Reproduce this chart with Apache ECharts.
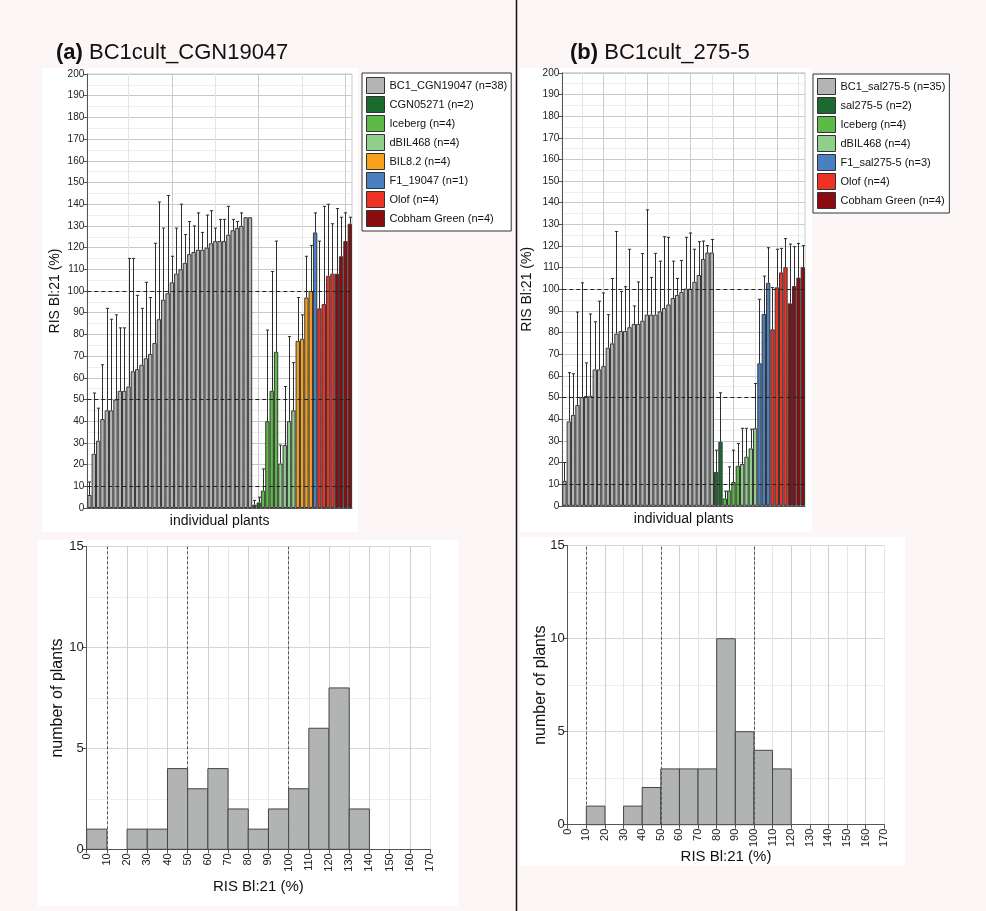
<!DOCTYPE html>
<html>
<head>
<meta charset="utf-8">
<script src="https://cdn.jsdelivr.net/npm/echarts@6/dist/echarts.min.js"></script>
<style>
  html, body { margin: 0; padding: 0; background: #fcf6f6; }
  #chart { width: 986px; height: 911px; }
</style>
</head>
<body>
<div id="chart"></div>
<script>
// ---------- (a) BC1cult_CGN19047: RIS Bl:21 (%) per plant and upper error limit ----------
const aBC1   = [6, 25, 31, 41, 45, 45, 50, 54, 54, 56, 63, 64, 66, 69, 71, 76, 87, 96, 99, 104,
                108, 110, 113, 117, 118, 119, 119, 120, 122, 123, 123, 123, 126, 128, 129, 130, 134, 134];
const aBC1Up = [12, 53, 46, 66, 92, 87, 89, 83, 83, 115, 115, 98, 92, 104, 97, 122, 141, 129, 144, 116,
                129, 140, 126, 132, 130, 136, 127, 135, 137, 129, 133, 133, 139, 133, 132, 136, null, null];
const aCGN05271 = [1.5, 2.5];          const aCGN05271Up = [3.5, 5];
const aIceberg  = [8, 40, 54, 72];     const aIcebergUp  = [18, 82, 109, 123];
const aDBIL468  = [20.5, 29, 40, 45];  const aDBIL468Up  = [29, 56, 79, 67];
const aBIL82    = [77, 78, 97, 100];   const aBIL82Up    = [97, 89, 116, 121];
const aF1       = [127];               const aF1Up       = [136];
const aOlof     = [92, 94, 107, 108];  const aOlofUp     = [123, 139, 140, 131];
const aCobham   = [108, 116, 123, 131];const aCobhamUp   = [138, 134, 136, 134];
const aNames = ['BC1_CGN19047 (n=38)', 'CGN05271 (n=2)', 'Iceberg (n=4)', 'dBIL468 (n=4)',
                'BIL8.2 (n=4)', 'F1_19047 (n=1)', 'Olof (n=4)', 'Cobham Green (n=4)'];

// ---------- (b) BC1cult_275-5 ----------
const bBC1   = [11.5, 39, 42, 46.5, 50.2, 50.7, 50.8, 63, 63, 64.5, 73, 75, 79.5, 80.7, 80.7, 82.5, 84, 84,
                85.5, 88.3, 88.3, 88.3, 89.8, 91.4, 93, 96, 97.4, 98.8, 100.3, 100.3, 103.5, 106.6, 114, 117, 117];
const bBC1Up = [20, 61.5, 61, 89.5, 103, 66, 88.6, 85, 94.5, 98.3, 88.3, 105, 126.7, 99, 101.2, 118.5, 92.3, 103.4,
                116.5, 136.7, 105.5, 116.6, 113, 124.3, 124, 113, 105, 113.3, 124, 126, 118.5, 122, 122.3, 120.2, 123];
const bSal2755  = [15.6, 29.6];              const bSal2755Up  = [25.7, 52.2];
const bIceberg  = [3.4, 7.1, 11, 18.5];      const bIcebergUp  = [6.8, 18, 25.7, 28.8];
const bDBIL468  = [19.3, 22.7, 26.5, 35.8];  const bDBIL468Up  = [35.8, 35.8, 35.4, 56.5];
const bF1       = [65.8, 88.6, 103];         const bF1Up       = [95.4, 106.1, 119.2];
const bOlof     = [81.5, 100.9, 107.8, 110.2]; const bOlofUp   = [100.8, 118.5, 118.9, 123.4];
const bCobham   = [93.5, 101.5, 105.4, 110.2]; const bCobhamUp = [120.9, 119.7, 121.2, 120.2];
const bNames = ['BC1_sal275-5 (n=35)', 'sal275-5 (n=2)', 'Iceberg (n=4)', 'dBIL468 (n=4)',
                'F1_sal275-5 (n=3)', 'Olof (n=4)', 'Cobham Green (n=4)'];

// ---------- histograms: number of BC1 plants per 10 % class ----------
const binStarts   = [0, 10, 20, 30, 40, 50, 60, 70, 80, 90, 100, 110, 120, 130, 140, 150, 160];
const aHistCounts = [1, 0, 1, 1, 4, 3, 4, 2, 1, 2, 3, 6, 8, 2, 0, 0, 0];
const bHistCounts = [0, 1, 0, 1, 2, 3, 3, 3, 10, 5, 4, 3, 0, 0, 0, 0, 0];
const refLines = [10, 50, 100];

// ---------- styling ----------
const FONT = 'Liberation Sans, Arial, sans-serif';
const aColors = ['#b3b5b5', '#1b6b2e', '#5cba47', '#8fcf8b', '#f6a21d', '#4a7fc1', '#ee3224', '#8a0b10'];
const bColors = ['#b3b5b5', '#1b6b2e', '#5cba47', '#8fcf8b', '#4a7fc1', '#ee3224', '#8a0b10'];

const panelA = {
  names: aNames, colors: aColors,
  values: [aBC1, aCGN05271, aIceberg, aDBIL468, aBIL82, aF1, aOlof, aCobham],
  uppers: [aBC1Up, aCGN05271Up, aIcebergUp, aDBIL468Up, aBIL82Up, aF1Up, aOlofUp, aCobhamUp],
  gridLines: [[9, '#e4e4e4'], [19, '#cbcbcb'], [29, '#e4e4e4'], [39, '#cbcbcb'], [49, '#e4e4e4'], [59, '#cbcbcb']]
};
const panelB = {
  names: bNames, colors: bColors,
  values: [bBC1, bSal2755, bIceberg, bDBIL468, bF1, bOlof, bCobham],
  uppers: [bBC1Up, bSal2755Up, bIcebergUp, bDBIL468Up, bF1Up, bOlofUp, bCobhamUp],
  gridLines: [[4, '#e4e4e4'], [9, '#cbcbcb'], [14, '#e4e4e4'], [19, '#cbcbcb'], [24, '#e4e4e4'], [29, '#cbcbcb'],
              [34, '#e4e4e4'], [39, '#cbcbcb'], [44, '#e4e4e4'], [49, '#cbcbcb'], [54, '#e4e4e4']]
};

function plantCount(p) { return p.values.reduce((s, v) => s + v.length, 0); }

// error whisker: vertical line from bar top to upper limit, with a small cap
function renderWhisker(params, api) {
  const up = api.value(2);
  if (up == null || isNaN(up)) return;
  const base = api.coord([api.value(0), api.value(1)]);
  const top = api.coord([api.value(0), up]);
  const x = Math.round(base[0]) + 0.5;
  const st = { stroke: '#2e2e2e', lineWidth: 1 };
  return {
    type: 'group',
    children: [
      { type: 'line', shape: { x1: x, y1: base[1], x2: x, y2: top[1] }, style: st },
      { type: 'line', shape: { x1: x - 1.6, y1: top[1], x2: x + 1.6, y2: top[1] }, style: st }
    ]
  };
}

function panelSeries(p, idx) {
  const total = plantCount(p);
  const out = [];
  const whiskers = [];
  let offset = 0;
  p.values.forEach((vals, g) => {
    const data = new Array(total).fill('-');
    vals.forEach((v, i) => {
      data[offset + i] = v;
      const up = p.uppers[g][i];
      if (up != null) whiskers.push([offset + i, v, up]);
    });
    offset += vals.length;
    const s = {
      type: 'bar', name: p.names[g], xAxisIndex: idx, yAxisIndex: idx, data,
      barGap: '-100%', barCategoryGap: '0%', z: 2, animation: false,
      itemStyle: { color: p.colors[g], borderColor: '#383838', borderWidth: 1 },
      emphasis: { disabled: true }
    };
    if (g === 0) {
      s.markLine = {
        silent: true, z: 1, animation: false, symbol: ['none', 'none'], label: { show: false },
        data: p.gridLines.map(([i, c]) => ({ xAxis: i, lineStyle: { color: c, width: 1, type: 'solid' } }))
      };
    }
    if (g === p.values.length - 1) {
      s.markLine = {
        silent: true, animation: false, symbol: ['none', 'none'], label: { show: false },
        lineStyle: { color: '#222', width: 1, type: [4, 3] },
        data: refLines.map(v => ({ yAxis: v }))
      };
    }
    out.push(s);
  });
  out.push({
    type: 'custom', xAxisIndex: idx, yAxisIndex: idx, z: 4, animation: false, silent: true,
    renderItem: renderWhisker, encode: { x: 0, y: [1, 2] }, data: whiskers
  });
  return out;
}

function renderHistBar(params, api) {
  const n = api.value(2);
  if (!n) return;
  const p0 = api.coord([api.value(0), n]);
  const p1 = api.coord([api.value(1), 0]);
  return {
    type: 'rect',
    shape: { x: p0[0], y: p0[1], width: p1[0] - p0[0], height: p1[1] - p0[1] },
    style: { fill: '#b2b4b4', stroke: '#454545', lineWidth: 1 }
  };
}

function histSeries(counts, idx) {
  return [{
    type: 'custom', xAxisIndex: idx, yAxisIndex: idx, animation: false, silent: true,
    renderItem: renderHistBar, encode: { x: [0, 1], y: 2 },
    data: binStarts.map((s, i) => [s, s + 10, counts[i]])
  }, {
    type: 'line', xAxisIndex: idx, yAxisIndex: idx, data: [], animation: false, silent: true,
    markLine: {
      silent: true, animation: false, symbol: ['none', 'none'], label: { show: false },
      lineStyle: { color: '#555', width: 1, type: [3, 2] },
      data: refLines.map(v => ({ xAxis: v }))
    }
  }];
}

function plantAxis(p, idx, gap) {
  return {
    type: 'category', gridIndex: idx,
    data: Array.from({ length: plantCount(p) }, (_, i) => String(i + 1)),
    axisLabel: { show: false }, axisTick: { show: false },
    axisLine: { show: true, lineStyle: { color: '#555', width: 1 } },
    splitLine: { show: false },
    name: 'individual plants', nameLocation: 'middle', nameGap: gap, nameMoveOverlap: false,
    nameTextStyle: { fontSize: 14, color: '#111', fontFamily: FONT }
  };
}

function risAxis(idx, gap) {
  return {
    type: 'value', gridIndex: idx, min: 0, max: 200, interval: 10,
    axisLine: { show: true, lineStyle: { color: '#555', width: 1 } },
    axisTick: { show: true, length: 4, lineStyle: { color: '#555' } },
    axisLabel: { fontSize: 10, color: '#222', margin: 3, fontFamily: FONT },
    splitLine: { show: true, lineStyle: { color: '#c9c9c9', width: 1 } },
    minorTick: { show: false, splitNumber: 2 },
    minorSplitLine: { show: true, lineStyle: { color: '#efefef', width: 1 } },
    name: 'RIS Bl:21 (%)', nameLocation: 'middle', nameGap: gap, nameMoveOverlap: false,
    nameTextStyle: { fontSize: 14, color: '#111', fontFamily: FONT }
  };
}

function histXAxis(idx, gap) {
  return {
    type: 'value', gridIndex: idx, min: 0, max: 170, interval: 10,
    axisLine: { show: true, onZero: false, lineStyle: { color: '#555', width: 1 } },
    axisTick: { show: true, length: 4, lineStyle: { color: '#555' } },
    axisLabel: { rotate: 90, fontSize: 11, color: '#222', margin: 4, fontFamily: FONT, hideOverlap: false },
    splitLine: { show: true, lineStyle: { color: ['#cfcfcf', '#e6e6e6'], width: 1 } },
    name: 'RIS Bl:21 (%)', nameLocation: 'middle', nameGap: gap, nameMoveOverlap: false,
    nameTextStyle: { fontSize: 15, color: '#111', fontFamily: FONT }
  };
}

function histYAxis(idx, gap) {
  return {
    type: 'value', gridIndex: idx, min: 0, max: 15, interval: 5,
    axisLine: { show: true, lineStyle: { color: '#555', width: 1 } },
    axisTick: { show: true, length: 4, lineStyle: { color: '#555' } },
    axisLabel: { fontSize: 13, color: '#222', margin: 3, fontFamily: FONT },
    splitLine: { show: true, lineStyle: { color: '#d6d6d6', width: 1 } },
    minorTick: { show: false, splitNumber: 2 },
    minorSplitLine: { show: true, lineStyle: { color: '#eeeeee', width: 1 } },
    name: 'number of plants', nameLocation: 'middle', nameGap: gap, nameMoveOverlap: false,
    nameTextStyle: { fontSize: 16, color: '#111', fontFamily: FONT }
  };
}

function legendFor(names, left, top) {
  return {
    data: names, orient: 'vertical', left, top,
    icon: 'rect', itemWidth: 18, itemHeight: 16, itemGap: 2,
    padding: [4, 4, 4, 4], backgroundColor: '#fff', borderColor: '#333', borderWidth: 1, borderRadius: 0,
    selectedMode: false,
    itemStyle: { borderColor: '#333', borderWidth: 1 },
    textStyle: { fontSize: 11, color: '#111', fontFamily: FONT }
  };
}

const panelRect = (x, y, w, h) => ({
  type: 'rect', z: -5, silent: true, shape: { x, y, width: w, height: h }, style: { fill: '#ffffff' }
});

const chart = echarts.init(document.getElementById('chart'), null, { renderer: 'canvas' });
chart.setOption({
  backgroundColor: '#fcf6f6',
  animation: false,
  textStyle: { fontFamily: FONT },
  title: [
    { text: '{b|(a)} BC1cult_CGN19047', left: 51, top: 37,
      textStyle: { fontSize: 22, fontWeight: 'normal', color: '#111', fontFamily: FONT,
                   rich: { b: { fontSize: 22, fontWeight: 'bold', color: '#111', fontFamily: FONT } } } },
    { text: '{b|(b)} BC1cult_275-5', left: 565, top: 37,
      textStyle: { fontSize: 22, fontWeight: 'normal', color: '#111', fontFamily: FONT,
                   rich: { b: { fontSize: 22, fontWeight: 'bold', color: '#111', fontFamily: FONT } } } }
  ],
  legend: [legendFor(aNames, 362, 73), legendFor(bNames, 813, 74)],
  grid: [
    { left: 87.3, top: 74, width: 264.7, height: 434, show: true, borderColor: '#c9c9c9', borderWidth: 1, backgroundColor: 'transparent' },
    { left: 562.3, top: 72.8, width: 242.7, height: 433, show: true, borderColor: '#c9c9c9', borderWidth: 1, backgroundColor: 'transparent' },
    { left: 86.7, top: 546.7, width: 343.3, height: 302.6 },
    { left: 567.7, top: 545.7, width: 316.6, height: 279 }
  ],
  xAxis: [plantAxis(panelA, 0, 6), plantAxis(panelB, 1, 6), histXAxis(2, 30), histXAxis(3, 25)],
  yAxis: [risAxis(0, 25), risAxis(1, 28), histYAxis(2, 21), histYAxis(3, 19)],
  series: [
    ...panelSeries(panelA, 0),
    ...panelSeries(panelB, 1),
    ...histSeries(aHistCounts, 2),
    ...histSeries(bHistCounts, 3)
  ],
  graphic: {
    elements: [
      panelRect(42, 68, 316, 464),
      panelRect(520, 68, 292, 464),
      panelRect(38, 540, 420, 366),
      panelRect(520, 537, 385, 329),
      { type: 'line', z: 10, silent: true, shape: { x1: 516.5, y1: 0, x2: 516.5, y2: 911 },
        style: { stroke: '#111', lineWidth: 1.5 } }
    ]
  }
});
</script>
</body>
</html>
